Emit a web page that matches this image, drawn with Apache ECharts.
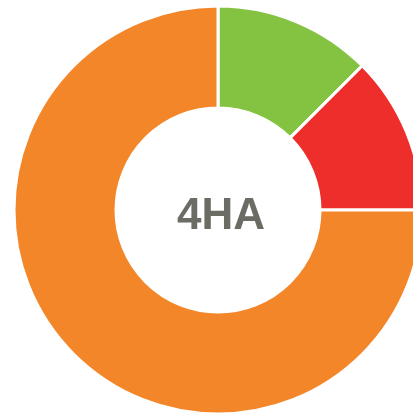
<!DOCTYPE html>
<html>
<head>
<meta charset="utf-8">
<script src="https://cdn.jsdelivr.net/npm/echarts@6/dist/echarts.min.js"></script>
<style>
html,body{margin:0;padding:0;background:#fff;}
#chart{width:413px;height:414px;}
</style>
</head>
<body>
<div id="chart"></div>
<script>
var categories = ['Green', 'Red', 'Orange'];
var values = [1, 1, 6];
var colors = ['#84C341', '#EE2E2B', '#F4862A'];
var centerLabel = '4HA';

var chart = echarts.init(document.getElementById('chart'), null, {renderer: 'canvas'});
chart.setOption({
  backgroundColor: '#ffffff',
  animation: false,
  graphic: [{
    type: 'text',
    left: 177,
    top: 195,
    style: {
      text: centerLabel,
      font: 'bold 44px "Liberation Sans", Arial, sans-serif',
      fill: '#6B6C63'
    }
  }],
  series: [{
    type: 'pie',
    center: [218, 210],
    radius: [102, 204],
    startAngle: 90,
    clockwise: true,
    label: {show: false},
    labelLine: {show: false},
    emphasis: {disabled: true},
    itemStyle: {borderColor: '#ffffff', borderWidth: 3},
    data: categories.map(function (c, i) {
      return {name: c, value: values[i], itemStyle: {color: colors[i]}};
    })
  }]
});
</script>
</body>
</html>
